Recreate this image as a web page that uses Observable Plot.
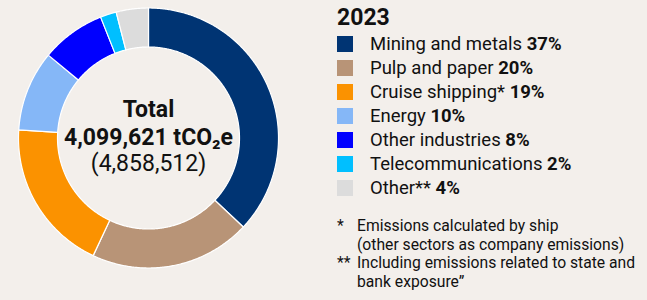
<!DOCTYPE html>
<html><head><meta charset="utf-8">
<script src="https://cdn.jsdelivr.net/npm/d3@7"></script>
<script src="https://cdn.jsdelivr.net/npm/@observablehq/plot@0.6"></script>
<style>
html,body{margin:0;padding:0;background:#f3efeb;}
#wrap{position:relative;width:647px;height:300px;background:#f3efeb;font-family:Roboto,"DejaVu Sans",sans-serif;color:#111;overflow:hidden;}
#chart{position:absolute;left:0;top:0;}
#legend{position:absolute;left:337px;top:5px;}
#legend .yr{font-weight:bold;font-size:23px;line-height:26px;margin-bottom:1px;}
#legend .row{display:flex;align-items:center;height:24px;font-size:18.5px;}
#legend .sw{width:16px;height:16px;margin-right:17px;}
#notes{position:absolute;left:337px;top:217px;font-size:15.7px;line-height:18.5px;}
#notes .n{display:flex;white-space:nowrap;}
#notes .m{width:20px;flex:none;}
</style></head>
<body><div id="wrap"><div id="chart"></div><div id="legend"></div><div id="notes"></div></div>
<script>
const categories = ["Mining and metals","Pulp and paper","Cruise shipping*","Energy","Other industries","Telecommunications","Other**"];
const shares = [37,20,19,10,8,2,4];
const colors = ["#003473","#b89477","#fb9200","#85b7f7","#0000ff","#00bfff","#dcdcdc"];
const yearLabel = "2023";
const centerBold = ["Total","4,099,621 tCO\u2082e"];
const centerRegular = ["(4,858,512)"];
const footnotes = [
  ["*","Emissions calculated by ship"],
  ["","(other sectors as company emissions)"],
  ["**","Including emissions related to state and"],
  ["","bank exposure\u201d"]
];

const innerR = 0.70;
const total = d3.sum(shares);
const pts = [];
let acc = 0;
shares.forEach((v,i)=>{
  const a0 = acc/total*2*Math.PI, a1 = (acc+v)/total*2*Math.PI;
  acc += v;
  const n = Math.max(2, Math.ceil((a1-a0)/(Math.PI/360)));
  const outer = [], inner = [];
  for(let k=0;k<=n;k++){
    const a = a0 + (a1-a0)*k/n;
    outer.push({cat:categories[i], x:Math.sin(a), y:Math.cos(a)});
    inner.push({cat:categories[i], x:innerR*Math.sin(a), y:innerR*Math.cos(a)});
  }
  pts.push(...outer, ...inner.reverse());
});

const chart = Plot.plot({
  width:300, height:300, margin:0,
  style:{background:"transparent", fontFamily:"Roboto, sans-serif"},
  x:{domain:[-1,1], range:[18,278], axis:null},
  y:{domain:[-1,1], range:[267.5,7.5], axis:null},
  color:{domain:categories, range:colors},
  marks:[
    Plot.line(pts, {x:"x", y:"y", z:"cat", fill:"cat", stroke:"white", strokeWidth:1.2, curve:"linear-closed"}),
    Plot.text(centerBold, {x:()=>0, y:(d,i)=>[0.215,0.0][i], text:d=>d,
      fontWeight:"bold", fontSize:23, fill:"#111"}),
    Plot.text(centerRegular, {x:()=>0, y:()=>-0.2, text:d=>d,
      fontSize:23, fill:"#111"})
  ]
});
document.getElementById("chart").appendChild(chart);

const lg = document.getElementById("legend");
lg.innerHTML = `<div class="yr">${yearLabel}</div>` + categories.map((c,i)=>
  `<div class="row"><div class="sw" style="background:${colors[i]}"></div><span>${c} <b>${shares[i]}%</b></span></div>`).join("");
document.getElementById("notes").innerHTML = footnotes.map(([m,t])=>`<div class="n"><span class="m">${m}</span><span>${t}</span></div>`).join("");
</script></body></html>
